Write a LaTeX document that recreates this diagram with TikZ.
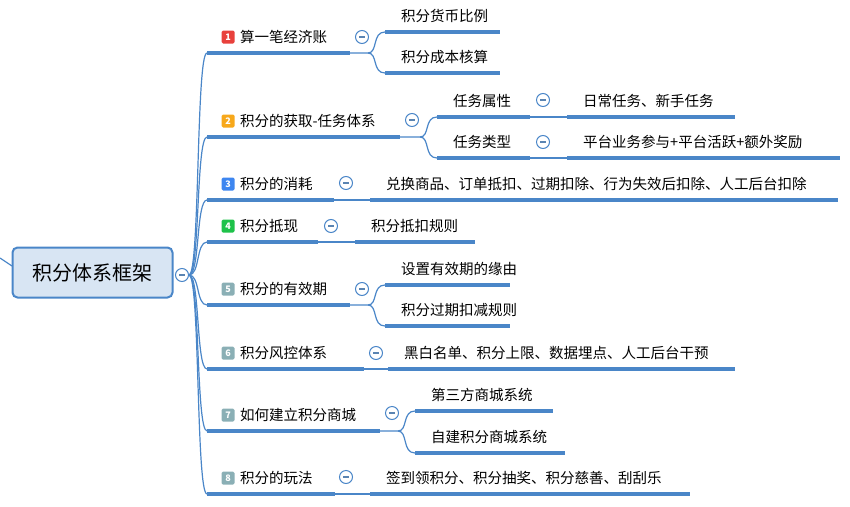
\documentclass[tikz,border=0pt]{standalone}
\usepackage{fontspec}
\setmainfont{Noto Sans CJK SC}
\definecolor{ln}{HTML}{4A86C8}
\definecolor{rootf}{HTML}{D8E5F3}
\definecolor{mred}{HTML}{E8413C}
\definecolor{morg}{HTML}{F7A81B}
\definecolor{mblu}{HTML}{3D86F0}
\definecolor{mgrn}{HTML}{1EC24A}
\definecolor{mgry}{HTML}{8AAFB5}
\tikzset{
 ul/.style={draw=ln,line width=3.5pt},
 thin/.style={draw=ln,line width=1.2pt},
 txt/.style={anchor=west,inner sep=0pt,font=\fontsize{14.5pt}{16pt}\selectfont},
 mk/.style={fill=#1,rounded corners=1.5pt,minimum size=13pt,inner sep=0pt,text=white,font=\fontsize{9pt}{10pt}\selectfont\bfseries},
 col/.style={draw=ln,fill=white,line width=1pt,circle,minimum size=13pt,inner sep=0pt,
   path picture={\draw[ln!70!gray,line width=1.3pt] ([xshift=-3pt]path picture bounding box.center)--([xshift=3pt]path picture bounding box.center);}},
}
\newcommand{\mybr}[6]{%
 \coordinate (#1s) at (#2,#4); \coordinate (#1e) at (#3,#4);
 \path[ul] (#1s)--(#1e);
 \node[txt] (#1) at (#5,#4-16) {#6};}
\begin{document}
\begin{tikzpicture}[x=1pt,y=-1pt]
\useasboundingbox (0,0) rectangle (850,506);
\draw[thin] (0,258) .. controls (6,262) .. (12,266);
\node[draw=ln,fill=rootf,line width=2pt,rounded corners=5pt,minimum width=160pt,minimum height=50pt,font=\fontsize{20pt}{22pt}\selectfont] (root) at (92.5,272.5) {积分体系框架};
\node[col] (rc) at (182,275) {};
\coordinate (ro) at (189,275);
\mybr{b1}{207}{350}{53}{240}{算一笔经济账}
\mybr{b2}{207}{400}{137}{240}{积分的获取-任务体系}
\mybr{b3}{207}{334}{200}{240}{积分的消耗}
\mybr{b4}{207}{318}{242}{240}{积分抵现}
\mybr{b5}{207}{350}{305}{240}{积分的有效期}
\mybr{b6}{207}{364}{369}{240}{积分风控体系}
\mybr{b7}{207}{380}{431}{240}{如何建立积分商城}
\mybr{b8}{207}{335}{494}{240}{积分的玩法}
\foreach \n/\c/\y in {1/mred/37,2/morg/121,3/mblu/184,4/mgrn/226,5/mgry/289,6/mgry/353,7/mgry/415,8/mgry/478}{
  \node[mk=\c] (m\n) at (228,\y) {\n};
  \draw[thin] (ro) .. controls (200,275) and (196,\y+16) .. (b\n s);
}
\node[col] (c1) at (362,37) {};
\node[col] (c2) at (412,120) {};
\node[col] (c3) at (346,183) {};
\node[col] (c4) at (331,226) {};
\node[col] (c5) at (362,289) {};
\node[col] (c6) at (376,353) {};
\node[col] (c7) at (392,413) {};
\node[col] (c8) at (346,477) {};
\mybr{a1}{385}{500}{32}{401}{积分货币比例}
\mybr{a2}{385}{500}{73}{401}{积分成本核算}
\draw[thin] (b1e)--(368,53) .. controls (378,53) and (372,32) .. (a1s);
\draw[thin] (368,53) .. controls (378,53) and (372,73) .. (a2s);
\mybr{a3}{437}{530}{117}{453}{任务属性}
\mybr{a4}{437}{530}{158}{453}{任务类型}
\draw[thin] (b2e)--(420,137) .. controls (430,137) and (424,117) .. (a3s);
\draw[thin] (420,137) .. controls (430,137) and (424,158) .. (a4s);
\node[col] (c9) at (543,100) {};
\node[col] (c10) at (543,142) {};
\mybr{g1}{567}{735}{117}{583}{日常任务、新手任务}
\mybr{g2}{567}{840}{158}{583}{平台业务参与+平台活跃+额外奖励}
\draw[thin] (a3e)--(g1s);
\draw[thin] (a4e)--(g2s);
\mybr{a5}{370}{838}{200}{386}{兑换商品、订单抵扣、过期扣除、行为失效后扣除、人工后台扣除}
\draw[thin] (b3e)--(a5s);
\mybr{a6}{355}{475}{242}{371}{积分抵扣规则}
\draw[thin] (b4e)--(a6s);
\mybr{a7}{385}{510}{285}{401}{设置有效期的缘由}
\mybr{a8}{385}{510}{326}{401}{积分过期扣减规则}
\draw[thin] (b5e)--(368,305) .. controls (378,305) and (372,285) .. (a7s);
\draw[thin] (368,305) .. controls (378,305) and (372,326) .. (a8s);
\mybr{a9}{388}{735}{369}{404}{黑白名单、积分上限、数据埋点、人工后台干预}
\draw[thin] (b6e)--(a9s);
\mybr{a10}{415}{553}{411}{431}{第三方商城系统}
\mybr{a11}{415}{565}{453}{431}{自建积分商城系统}
\draw[thin] (b7e)--(398,431) .. controls (408,431) and (402,411) .. (a10s);
\draw[thin] (398,431) .. controls (408,431) and (402,453) .. (a11s);
\mybr{a12}{370}{690}{494}{386}{签到领积分、积分抽奖、积分慈善、刮刮乐}
\draw[thin] (b8e)--(a12s);
\end{tikzpicture}
\end{document}
